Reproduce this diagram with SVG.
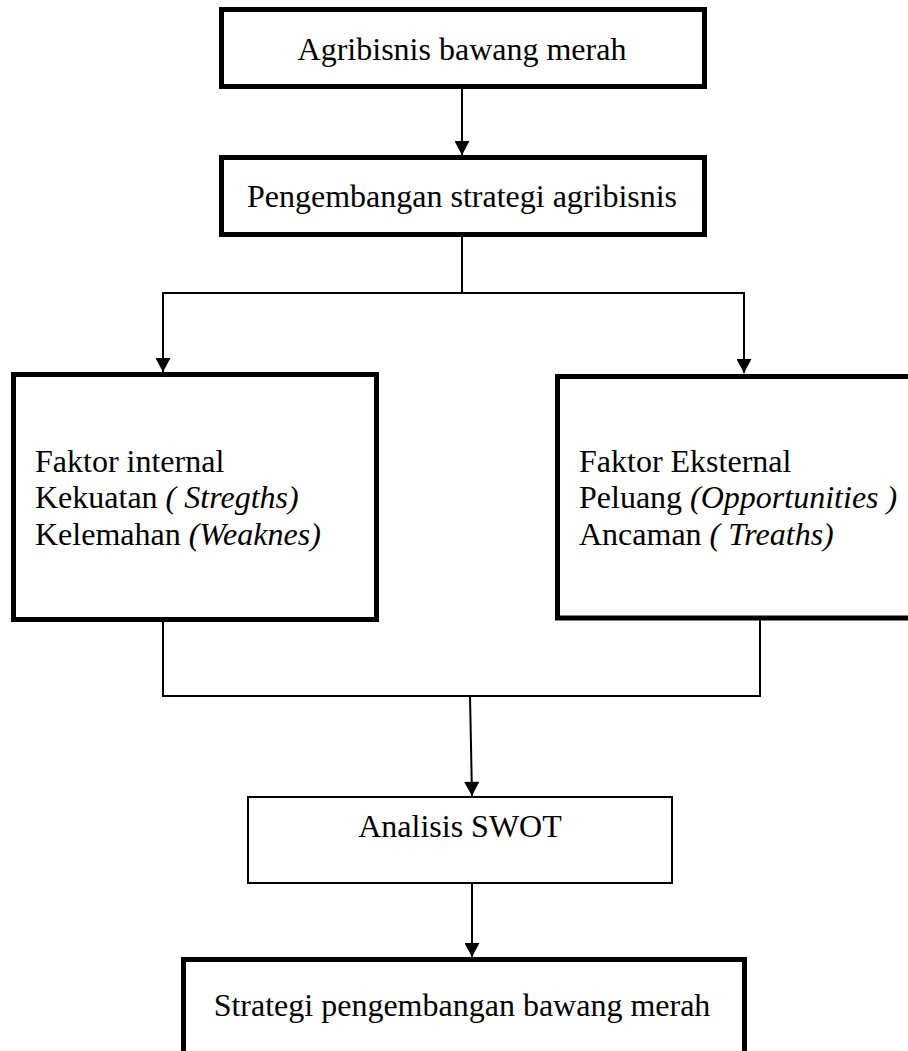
<svg xmlns="http://www.w3.org/2000/svg" width="908" height="1051" viewBox="0 0 908 1051">
  <style>
    .thick { fill: #fff; stroke: #000; stroke-width: 5; }
    .thin { fill: #fff; stroke: #000; stroke-width: 2; }
    .conn { fill: none; stroke: #000; stroke-width: 2; }
    text { font-family: "Liberation Serif", "Times New Roman", serif; font-size: 32px; fill: #000; }
    .c { text-anchor: middle; }
    .i { font-style: italic; }
  </style>
  <defs>
    <marker id="arrow" markerUnits="userSpaceOnUse" markerWidth="16" markerHeight="15" viewBox="0 0 15 16" refX="15" refY="8" orient="auto">
      <path d="M0,0 L15,8 L0,16 z" fill="#000"/>
    </marker>
  </defs>
  <rect width="908" height="1051" fill="#fff"/>

  <g id="connectors">
    <line class="conn" x1="462" y1="89" x2="462" y2="155" marker-end="url(#arrow)"/>
    <polyline class="conn" points="462,237 462,293"/>
    <line class="conn" x1="162" y1="293" x2="745" y2="293"/>
    <line class="conn" x1="163" y1="293" x2="163" y2="372" marker-end="url(#arrow)"/>
    <line class="conn" x1="744" y1="293" x2="744" y2="373" marker-end="url(#arrow)"/>
    <polyline class="conn" points="163,622 163,696 760,696 760,620"/>
    <line class="conn" x1="470" y1="696" x2="472" y2="796" marker-end="url(#arrow)"/>
    <line class="conn" x1="472" y1="884" x2="472" y2="957" marker-end="url(#arrow)"/>
  </g>

  <g id="node-agribisnis">
    <rect class="thick" x="221.5" y="9.5" width="483" height="77"/>
    <text class="c" x="462" y="60">Agribisnis bawang merah</text>
  </g>

  <g id="node-pengembangan">
    <rect class="thick" x="221.5" y="157.5" width="483" height="77"/>
    <text class="c" x="462" y="207">Pengembangan strategi agribisnis</text>
  </g>

  <g id="node-internal">
    <rect class="thick" x="13.5" y="374.5" width="363" height="245"/>
    <text x="35" y="472">Faktor internal</text>
    <text x="35" y="508">Kekuatan <tspan class="i">( Stregths)</tspan></text>
    <text x="35" y="545">Kelemahan <tspan class="i">(Weaknes)</tspan></text>
  </g>

  <g id="node-eksternal">
    <rect class="thick" x="557.5" y="376.5" width="400" height="241.5"/>
    <text x="579" y="472">Faktor Eksternal</text>
    <text x="579" y="508">Peluang <tspan class="i">(Opportunities )</tspan></text>
    <text x="579" y="545">Ancaman <tspan class="i">( Treaths)</tspan></text>
  </g>

  <g id="node-swot">
    <rect class="thin" x="248" y="797" width="424" height="86"/>
    <text class="c" x="460" y="837">Analisis SWOT</text>
  </g>

  <g id="node-strategi">
    <rect class="thick" x="183.5" y="959.5" width="561" height="200"/>
    <text class="c" x="462" y="1016">Strategi pengembangan bawang merah</text>
  </g>
</svg>
